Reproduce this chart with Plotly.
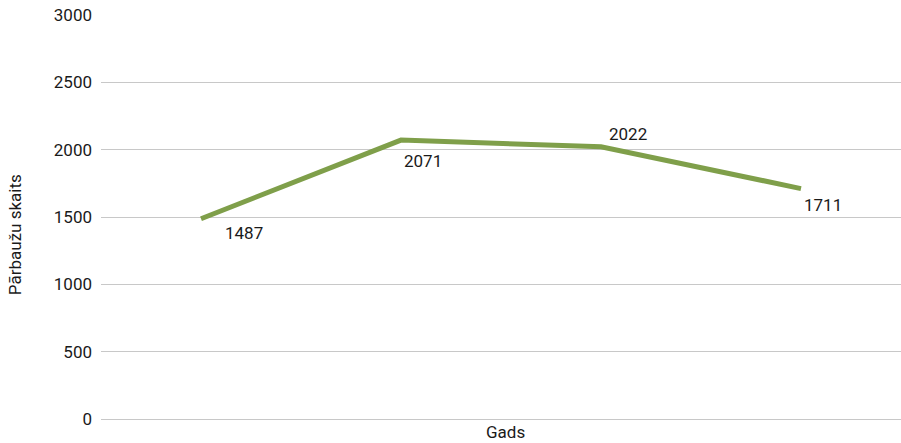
import plotly.graph_objects as go

years_idx = [0, 1, 2, 3]
values = [1487, 2071, 2022, 1711]
labels = ["1487", "2071", "2022", "1711"]
y_ticks = [0, 500, 1000, 1500, 2000, 2500, 3000]

FONT = "Liberation Sans Narrow, Roboto, sans-serif"
GREEN = "#7f9f4a"
FS = 17

def f(size=FS):
    return dict(family=FONT, size=size, color="#1a1a1a")

fig = go.Figure()
fig.add_trace(go.Scatter(
    x=years_idx, y=values, mode="lines",
    line=dict(color=GREEN, width=5),
    hoverinfo="skip", showlegend=False,
))

offs = [(22, -14), (1, -21), (6, 13), (1, -16)]
for xi, v, t, (dx, dy) in zip(years_idx, values, labels, offs):
    fig.add_annotation(x=xi, y=v, text=t, showarrow=False,
                       xanchor="left", yanchor="middle",
                       xshift=dx, yshift=dy, font=f())

fig.add_annotation(text="Gads", xref="paper", yref="paper", x=0.505, y=0,
                   yshift=-25, xanchor="center", yanchor="bottom", showarrow=False,
                   font=f())
fig.add_annotation(text="Pārbaužu skaits", xref="paper", yref="paper",
                   x=0, xshift=-86, y=0.455, textangle=-90,
                   xanchor="center", yanchor="middle", showarrow=False,
                   font=f())

fig.update_layout(
    width=901, height=443,
    margin=dict(l=101, r=0, t=15, b=24),
    plot_bgcolor="white", paper_bgcolor="white",
    font=f(),
    xaxis=dict(range=[-0.5, 3.5], showticklabels=False, showgrid=False,
               zeroline=False, showline=False, ticks=""),
    yaxis=dict(range=[0, 3000], tickvals=y_ticks, showgrid=True,
               gridcolor="#c8c8c8", gridwidth=1, zeroline=True,
               zerolinecolor="#c8c8c8", zerolinewidth=1,
               showline=False, ticks="", ticklabelstandoff=8),
)

fig.write_html("out.html")
